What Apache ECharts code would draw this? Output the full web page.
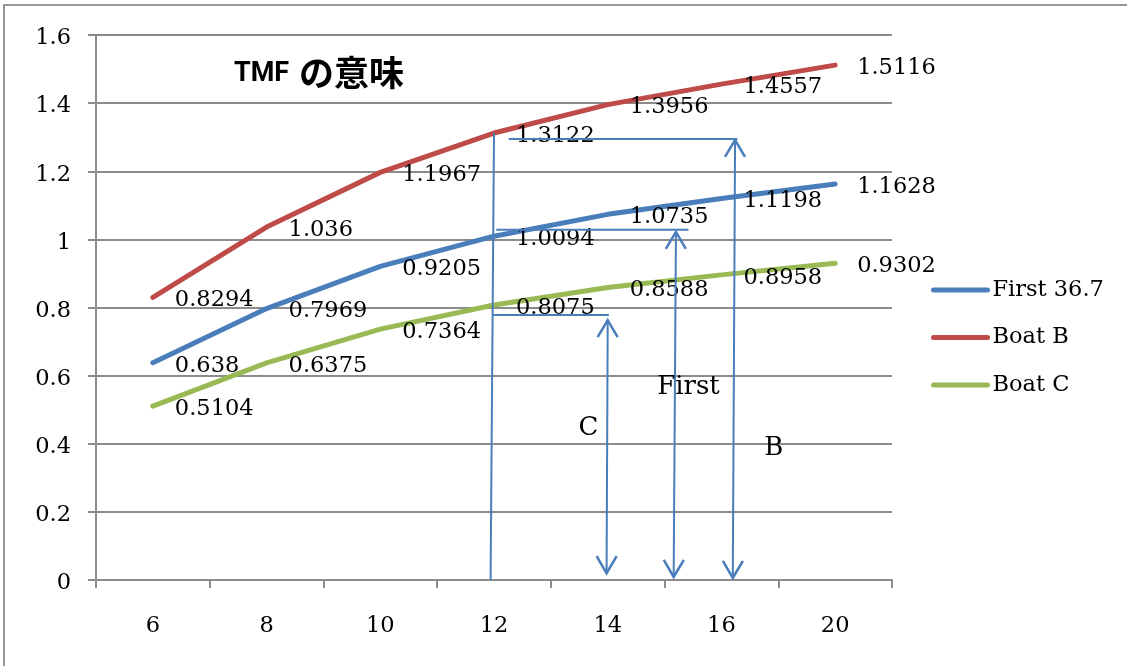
<!DOCTYPE html>
<html>
<head>
<meta charset="utf-8">
<script src="https://cdn.jsdelivr.net/npm/echarts@6/dist/echarts.min.js"></script>
<style>
  html, body { margin: 0; padding: 0; background: #fff; }
  #chart { width: 1127px; height: 666px; }
</style>
</head>
<body>
<div id="chart"></div>
<script>
// Wind speed categories and hull speed values per boat
const categories = ['6', '8', '10', '12', '14', '16', '20'];
const first367 = [0.638, 0.7969, 0.9205, 1.0094, 1.0735, 1.1198, 1.1628];
const boatB = [0.8294, 1.036, 1.1967, 1.3122, 1.3956, 1.4557, 1.5116];
const boatC = [0.5104, 0.6375, 0.7364, 0.8075, 0.8588, 0.8958, 0.9302];
const seriesNames = ['First 36.7', 'Boat B', 'Boat C'];
const titleText = 'TMF';
const titleJa = 'の意味';

// Guide lines in (category position, value): [x1, y1, x2, y2, headAtStart, headAtEnd]
const guideLines = [
  [2.97, 0, 3.0, 1.3122, 0, 0],
  [3.13, 1.295, 5.14, 1.295, 0, 0],
  [3.02, 1.028, 4.71, 1.028, 0, 0],
  [2.99, 0.778, 4.01, 0.778, 0, 0]
];
// Double-headed arrows from the axis up to each guide line
const arrows = [
  [3.99, 0.02, 4.00, 0.763, 1, 1],
  [4.58, 0.009, 4.60, 1.022, 1, 1],
  [5.10, 0.006, 5.12, 1.292, 1, 1]
];
// Arrow captions: [x, y, text]
const arrowLabels = [
  [3.83, 0.446, 'C'],
  [4.71, 0.567, 'First'],
  [5.46, 0.388, 'B']
];

const colors = ['#4a7ebb', '#be4b48', '#98b954'];
const serif = 'DejaVu Serif';
const sans = 'Noto Sans CJK JP';
const annoColor = '#4a7ebb';
const gridGray = '#8c8c8c';

function arrowHead(tip, from) {
  const dx = tip[0] - from[0], dy = tip[1] - from[1];
  const len = Math.sqrt(dx * dx + dy * dy) || 1;
  const ux = dx / len, uy = dy / len;
  const L = 17, W = 10;
  return {
    type: 'polyline',
    shape: { points: [
      [tip[0] - ux * L - uy * W, tip[1] - uy * L + ux * W],
      tip,
      [tip[0] - ux * L + uy * W, tip[1] - uy * L - ux * W]
    ] },
    style: { stroke: annoColor, lineWidth: 2.5, fill: null }
  };
}

function renderGuide(params, api) {
  const p1 = api.coord([api.value(0), api.value(1)]);
  const p2 = api.coord([api.value(2), api.value(3)]);
  const children = [{
    type: 'line',
    shape: { x1: p1[0], y1: p1[1], x2: p2[0], y2: p2[1] },
    style: { stroke: annoColor, lineWidth: 2 }
  }];
  if (api.value(4)) children.push(arrowHead(p1, p2));
  if (api.value(5)) children.push(arrowHead(p2, p1));
  return { type: 'group', children };
}

function renderCaption(params, api) {
  const p = api.coord([api.value(0), api.value(1)]);
  return {
    type: 'text',
    x: p[0], y: p[1],
    style: {
      text: arrowLabels[params.dataIndex][2],
      fontFamily: serif, fontSize: 26, fill: '#000',
      align: 'center', verticalAlign: 'middle'
    }
  };
}

function lineSeries(name, data, color) {
  return {
    name, type: 'line', data,
    xAxisIndex: 0, yAxisIndex: 0,
    symbol: 'circle', symbolSize: 0, showSymbol: true,
    itemStyle: { color },
    lineStyle: { color, width: 5, cap: 'round', join: 'round' },
    label: {
      show: true, position: 'right', distance: 22, offset: [0, 3],
      color: '#000', fontFamily: serif, fontSize: 22.5
    },
    emphasis: { disabled: true },
    animation: false
  };
}

const chart = echarts.init(document.getElementById('chart'), null, { renderer: 'canvas' });
chart.setOption({
  animation: false,
  backgroundColor: '#fff',
  graphic: [{
    type: 'rect', z: -1,
    shape: { x: 4, y: 5, width: 1200, height: 700 },
    style: { fill: null, stroke: '#969696', lineWidth: 2 }
  }, {
    // chart title: Latin part and Japanese part
    type: 'text', x: 234, y: 74, z: 10,
    style: { text: titleText, fontFamily: 'Roboto', fontWeight: 'bold', fontSize: 27,
             fill: '#000', align: 'left', verticalAlign: 'middle' }
  }, {
    type: 'text', x: 299, y: 73, z: 10,
    style: { text: titleJa, fontFamily: sans, fontWeight: 'bold', fontSize: 35,
             fill: '#000', align: 'left', verticalAlign: 'middle' }
  }],
  legend: {
    orient: 'vertical', left: 926, top: 272,
    itemWidth: 54, itemHeight: 26, itemGap: 21.5,
    data: seriesNames,
    itemStyle: { opacity: 0 },
    lineStyle: { width: 5, cap: 'round' },
    textStyle: { fontFamily: serif, fontSize: 22.5, color: '#000', lineHeight: 26 },
    selectedMode: false
  },
  grid: { left: 96, right: 235, top: 35, bottom: 86, containLabel: false },
  xAxis: [{
    type: 'category', data: categories, boundaryGap: true,
    axisLine: { lineStyle: { color: gridGray, width: 2 } },
    axisTick: { show: true, length: 8, interval: 0, lineStyle: { color: gridGray, width: 2 } },
    axisLabel: { interval: 0, margin: 35, color: '#000', fontFamily: serif, fontSize: 22.5 },
    splitLine: { show: false }
  }, {
    type: 'value', min: -0.5, max: 6.5, show: false
  }],
  yAxis: {
    type: 'value', min: 0, max: 1.6, interval: 0.2,
    axisLine: { show: true, onZero: false, lineStyle: { color: gridGray, width: 2 } },
    axisTick: { show: true, length: 8, lineStyle: { color: gridGray, width: 2 } },
    axisLabel: {
      margin: 25, formatter: '{v|{value}}',
      rich: { v: { padding: [7, 0, 0, 0], color: '#000', fontFamily: serif, fontSize: 22.5 } }
    },
    splitLine: { lineStyle: { color: gridGray, width: 2 } }
  },
  series: [
    lineSeries(seriesNames[0], first367, colors[0]),
    lineSeries(seriesNames[1], boatB, colors[1]),
    lineSeries(seriesNames[2], boatC, colors[2]),
    {
      type: 'custom', name: 'guides', xAxisIndex: 1, yAxisIndex: 0,
      data: guideLines.concat(arrows), renderItem: renderGuide,
      encode: { x: [0, 2], y: [1, 3] }, clip: false, z: 5, silent: true
    },
    {
      type: 'custom', name: 'captions', xAxisIndex: 1, yAxisIndex: 0,
      data: arrowLabels.map(d => [d[0], d[1]]), renderItem: renderCaption,
      encode: { x: 0, y: 1 }, clip: false, z: 5, silent: true
    }
  ]
});
</script>
</body>
</html>
